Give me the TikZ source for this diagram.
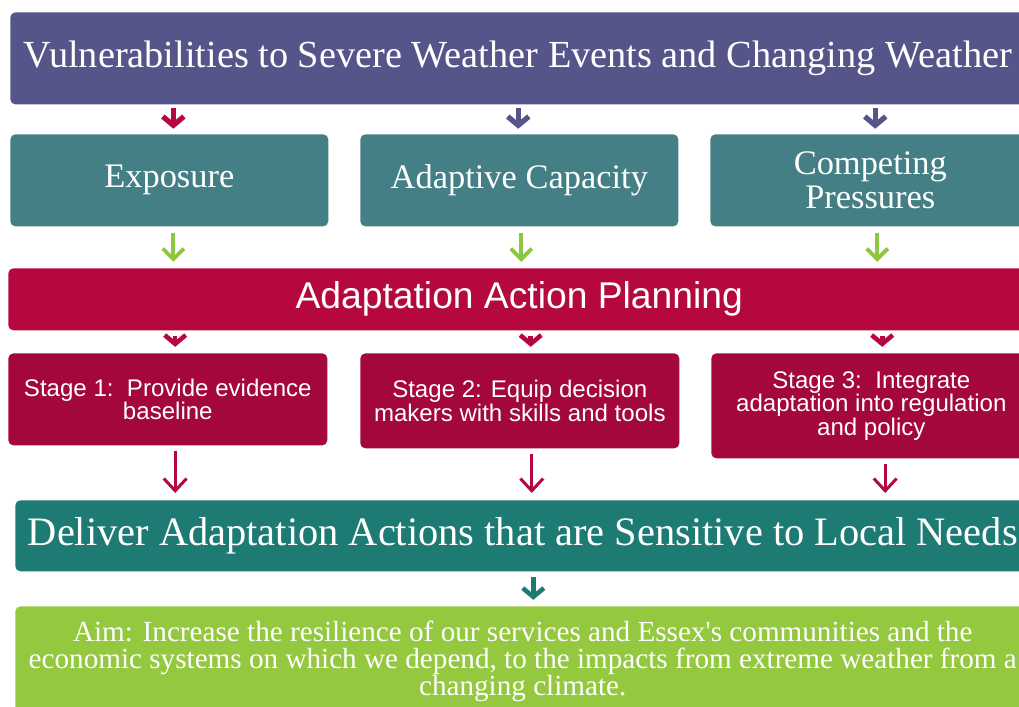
\documentclass[tikz,border=0pt]{standalone}
\usepackage{fontspec}
\setmainfont{Liberation Serif}
\setsansfont{Liberation Sans}
\usetikzlibrary{arrows.meta}

\definecolor{vulpurple}{HTML}{55558A}
\definecolor{factorteal}{HTML}{437F84}
\definecolor{planred}{HTML}{B5083F}
\definecolor{stagered}{HTML}{A3073C}
\definecolor{delivergreen}{HTML}{1E7B73}
\definecolor{aimgreen}{HTML}{93C83F}
\definecolor{arrowgreen}{HTML}{8DC641}

\tikzstyle{box}=[rectangle, rounded corners=0.1cm, anchor=north west, text=white, align=center, inner sep=0pt]
\tikzstyle{header}=[box, fill=vulpurple, minimum width=20.3cm, minimum height=1.84cm, font=\fontsize{21.8}{24}\selectfont]
\tikzstyle{factor}=[box, fill=factorteal, minimum width=6.36cm, minimum height=1.84cm, font=\fontsize{19.6}{19}\selectfont]
\tikzstyle{planning}=[box, fill=planred, minimum width=20.44cm, minimum height=1.24cm, font=\sffamily\fontsize{21.2}{22}\selectfont]
\tikzstyle{stagebox}=[box, fill=stagered, minimum width=6.38cm, font=\sffamily\fontsize{13.7}{13.5}\selectfont]
\tikzstyle{deliver}=[box, fill=delivergreen, minimum width=20.3cm, minimum height=1.42cm, font=\fontsize{23}{24}\selectfont]
\tikzstyle{aim}=[box, fill=aimgreen, minimum width=20.3cm, minimum height=2.2cm, font=\fontsize{16.6}{15.4}\selectfont]

\tikzstyle{chevron}=[line width=3pt, -{Straight Barb[length=5pt, width=12pt]}]
\tikzstyle{thinarrow}=[line width=1.7pt, -{Straight Barb[length=7pt, width=13pt]}]
\tikzstyle{greenarrow}=[arrowgreen, line width=2.2pt, -{Straight Barb[length=6pt, width=12pt]}]

\begin{document}
\begin{tikzpicture}[x=0.02cm, y=-0.02cm]
	\clip (0,0) rectangle (1019,707);
	\useasboundingbox (0,0) rectangle (1019,707);

	% Top banner
	\node[header] (vul) at (10,12) {Vulnerabilities to Severe Weather Events and Changing Weather};

	% Three factors
	\node[factor] (exp) at (10,134) {Exposure};
	\node[factor] (adc) at (360,134) {Adaptive Capacity};
	\node[factor, minimum width=6.4cm] (cmp) at (710,134) {Competing\\Pressures};

	% Planning bar
	\node[planning] (plan) at (8,268) {Adaptation Action Planning};

	% The three stages
	\node[stagebox, minimum height=1.84cm] (st1) at (8,353) {Stage 1:\ \ Provide evidence\\baseline};
	\node[stagebox, minimum height=1.9cm] (st2) at (360,353) {Stage 2: Equip decision\\makers with skills and tools};
	\node[stagebox, minimum width=6.4cm, minimum height=2.1cm] (st3) at (711,353) {Stage 3:\ \ Integrate\\adaptation into regulation\\and policy};

	% Delivery and aim
	\node[deliver] (del) at (15,500) {Deliver Adaptation Actions that are Sensitive to Local Needs};
	\node[aim] (aim) at (15,606) {Aim: Increase the resilience of our services and Essex\textquotesingle s communities and the\\economic systems on which we depend, to the impacts from extreme weather from a\\changing climate.};

	% Banner to factors
	\draw[chevron, planred, shorten <=2pt, shorten >=3pt] ([xshift=2.3pt]exp.north |- vul.south) -- ([xshift=2.3pt]exp.north);
	\draw[chevron, vulpurple, shorten <=2pt, shorten >=3pt] ([xshift=-0.6pt]adc.north |- vul.south) -- ([xshift=-0.6pt]adc.north);
	\draw[chevron, vulpurple, shorten <=2pt, shorten >=3pt] ([xshift=2.8pt]cmp.north |- vul.south) -- ([xshift=2.8pt]cmp.north);

	% Factors to planning
	\foreach \f/\dx in {exp/2.3pt, adc/1.1pt, cmp/4pt}{
		\draw[greenarrow, shorten <=3.5pt, shorten >=3.5pt] ([xshift=\dx]\f.south) -- ([xshift=\dx]\f.south |- plan.north);
	}

	% Planning to stages
	\foreach \s/\dx in {st1/4.2pt, st2/6.2pt, st3/6.2pt}{
		\draw[chevron, planred, line width=2.6pt, shorten <=3pt, shorten >=3.5pt] ([xshift=\dx]\s.north |- plan.south) -- ([xshift=\dx]\s.north);
	}

	% Stages to delivery
	\foreach \s/\dx in {st1/4.2pt, st2/6.8pt, st3/7.9pt}{
		\draw[thinarrow, planred, shorten <=3pt, shorten >=4pt] ([xshift=\dx]\s.south) -- ([xshift=\dx]\s.south |- del.north);
	}

	% Delivery to aim
	\draw[chevron, delivergreen, line width=2.6pt, shorten <=3pt, shorten >=3.5pt] ([xshift=6pt]del.south) -- ([xshift=6pt]aim.north);
\end{tikzpicture}
\end{document}
